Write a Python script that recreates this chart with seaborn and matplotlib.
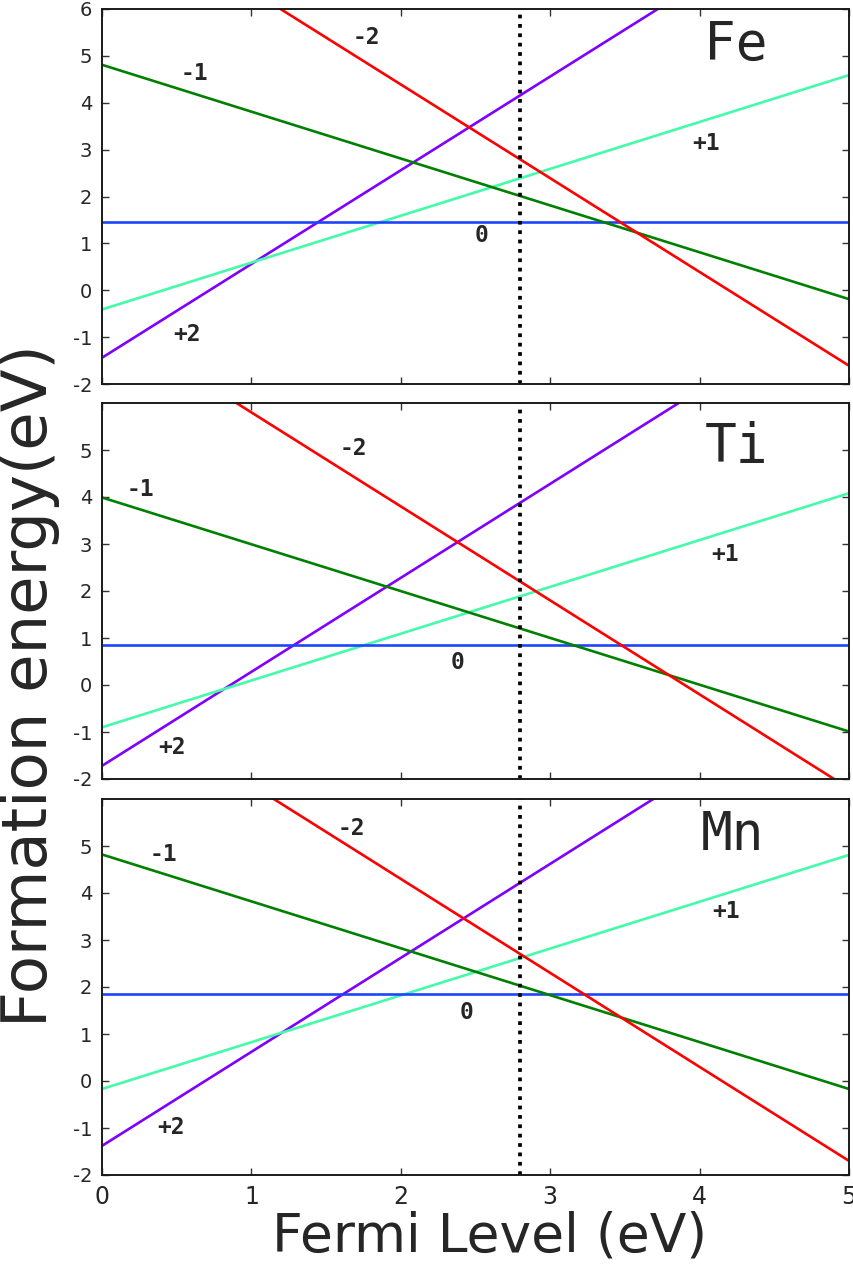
import numpy as np
import pandas as pd
import matplotlib
matplotlib.use("Agg")
import matplotlib.pyplot as plt
import seaborn as sns

# ---------------- data ----------------
fermi_x = [0.0, 5.0]
charges = ["+2", "+1", "0", "-1", "-2"]
elements = ["Fe", "Ti", "Mn"]

# formation energy of each charge state at E_F = 0 and E_F = 5
fe_start = [-1.44, -0.41, 1.45, 4.81, 8.39]
fe_end = [8.56, 4.59, 1.45, -0.19, -1.61]
ti_start = [-1.72, -0.90, 0.85, 3.99, 7.80]
ti_end = [8.28, 4.08, 0.85, -0.99, -2.20]
mn_start = [-1.38, -0.17, 1.85, 4.82, 8.30]
mn_end = [8.62, 4.81, 1.85, -0.17, -1.70]

band_gap = 2.80

x_ticks = [0, 1, 2, 3, 4, 5]
y_ticks_top = [-2, -1, 0, 1, 2, 3, 4, 5, 6]
y_ticks_other = [-2, -1, 0, 1, 2, 3, 4, 5]

# ---------------- styling / layout ----------------
colors = {"+2": "#8000ff", "+1": "#44fbaa", "0": "#1e44ff", "-1": "#008000", "-2": "#ff0000"}

label_pos = {
    "Fe": {"-1": (0.62, 4.63), "+2": (0.57, -0.95), "-2": (1.77, 5.40), "+1": (4.04, 3.14), "0": (2.54, 1.16)},
    "Ti": {"-1": (0.26, 4.15), "+2": (0.47, -1.32), "-2": (1.68, 5.04), "+1": (4.17, 2.77), "0": (2.38, 0.47)},
    "Mn": {"-1": (0.41, 4.81), "+2": (0.46, -0.98), "-2": (1.67, 5.38), "+1": (4.18, 3.60), "0": (2.44, 1.45)},
}
title_pos = {"Fe": (4.24, 5.23), "Ti": (4.25, 5.06), "Mn": (4.22, 5.23)}

sns.set_style("ticks")
plt.rcParams["font.family"] = ["DejaVu Sans"]
plt.rcParams["axes.unicode_minus"] = False

W, H = 854, 1268
fig = plt.figure(figsize=(W / 100, H / 100), dpi=100)

left = 102 / W
width = (849 - 102) / W
panels_px = [(9, 384), (403, 779), (799, 1175)]

starts = [fe_start, ti_start, mn_start]
ends = [fe_end, ti_end, mn_end]

for i, el in enumerate(elements):
    top, bot = panels_px[i]
    ax = fig.add_axes([left, (H - bot) / H, width, (bot - top) / H])
    rows = []
    for q, s, e in zip(charges, starts[i], ends[i]):
        rows.append({"Fermi": fermi_x[0], "E": s, "q": q})
        rows.append({"Fermi": fermi_x[1], "E": e, "q": q})
    df = pd.DataFrame(rows)
    sns.lineplot(data=df, x="Fermi", y="E", hue="q", palette=colors, hue_order=charges,
                 linewidth=1.9, legend=False, ax=ax, estimator=None, sort=False)
    ax.axvline(band_gap, color="black", linestyle=(0, (1, 1.5)), linewidth=2.7)
    ax.set_xlim(0, 5)
    ax.set_ylim(-2, 6)
    ax.set_xticks(x_ticks)
    ax.set_yticks(y_ticks_top if i == 0 else y_ticks_other)
    ax.set_xlabel("")
    ax.set_ylabel("")
    ax.tick_params(direction="in", top=True, right=True, length=5, width=1, color="#333333")
    ax.tick_params(axis="y", labelsize=14, pad=7)
    ax.tick_params(axis="x", labelsize=17, pad=7)
    if i < 2:
        ax.tick_params(axis="x", labelbottom=False)
    for sp in ax.spines.values():
        sp.set_visible(True)
        sp.set_linewidth(1.4)
        sp.set_color("#1a1a1a")
    for q in charges:
        x, y = label_pos[el][q]
        ax.text(x, y, q, fontsize=16.5, fontweight="bold", family="DejaVu Sans Mono",
                ha="center", va="center")
    tx, ty = title_pos[el]
    ax.text(tx, ty, el, fontsize=38, family="DejaVu Sans Mono", ha="center", va="center")

fig.text(30 / W, (H - 686) / H, "Formation energy(eV)", rotation=90, fontsize=45,
         ha="center", va="center")
fig.text(490 / W, (H - 1236) / H, "Fermi Level (eV)", fontsize=38.5, ha="center", va="center")

fig.savefig("out.png", dpi=100)
